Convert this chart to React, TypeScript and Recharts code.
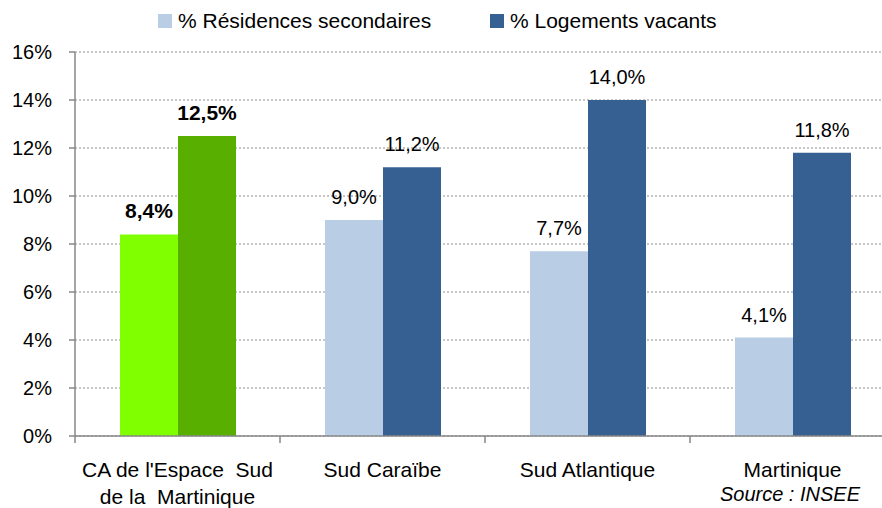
import { BarChart, Bar, XAxis, YAxis, CartesianGrid, LabelList, Cell } from "recharts";

const CATEGORIES = ["CA de l'Espace  Sud\nde la  Martinique", "Sud Caraïbe", "Sud Atlantique", "Martinique"];
const SERIES_NAMES = ["% Résidences secondaires", "% Logements vacants"];
const RESIDENCES = [8.4, 9.0, 7.7, 4.1];
const VACANTS = [12.5, 11.2, 14.0, 11.8];
const Y_TICKS = [0, 2, 4, 6, 8, 10, 12, 14, 16];

const FONT = "'Liberation Sans', Arial, sans-serif";
const LIGHT_BLUE = "#b9cde5";
const DARK_BLUE = "#376092";
const LIGHT_GREEN = "#80ff00";
const DARK_GREEN = "#59af00";
const AXIS_GRAY = "#878787";
const SERIES_COLORS = [LIGHT_BLUE, DARK_BLUE];

const data = CATEGORIES.map((name, i) => ({ name, res: RESIDENCES[i], vac: VACANTS[i] }));

const fmt = (v: number) => v.toFixed(1).replace(".", ",") + "%";

function ValueLabel(props: any) {
  const { x, y, width, value, index } = props;
  const bold = index === 0;
  return (
    <text x={x + width / 2} y={y - 16} textAnchor="middle" fontFamily={FONT} fontSize={bold ? 21 : 20}
      fontWeight={bold ? 700 : 400} fill="#000">
      {fmt(value)}
    </text>
  );
}

function CategoryTick(props: any) {
  const { x, y, payload, width } = props;
  const bw = width / CATEGORIES.length;
  const lines = String(payload.value).split("\n");
  return (
    <g>
      <line x1={x - bw / 2} x2={x - bw / 2} y1={y} y2={y + 7} stroke={AXIS_GRAY} strokeWidth={1.5} />
      {lines.map((l, i) => (
        <text key={i} x={x} y={y + 41 + i * 27} textAnchor="middle" fontFamily={FONT} fontSize={21} fill="#000"
          style={{ whiteSpace: "pre" }}>
          {l}
        </text>
      ))}
    </g>
  );
}

export default function App() {
  return (
    <div style={{ position: "absolute", left: 0, top: 0, width: 882, height: 508, overflow: "hidden", background: "#fff" }}>
      <BarChart width={895} height={508} data={data} margin={{ top: 52, right: 0, bottom: 0, left: 0 }}
        barGap={0} barSize={58}>
        <CartesianGrid vertical={false} strokeDasharray="2 2" stroke="#8c8c8c" />
        <XAxis dataKey="name" height={72} tickLine={false} tickSize={0} tickMargin={0} interval={0}
          axisLine={{ stroke: AXIS_GRAY, strokeWidth: 1.5 }} tick={<CategoryTick />} />
        <YAxis width={75} domain={[0, 16]} ticks={Y_TICKS} interval={0} tickFormatter={(v) => `${v}%`}
          axisLine={{ stroke: AXIS_GRAY, strokeWidth: 1.5 }} tickLine={{ stroke: AXIS_GRAY, strokeWidth: 1.5 }}
          tickSize={6} tickMargin={17} tick={{ fontFamily: FONT, fontSize: 20, fill: "#000" }} />
        <Bar dataKey="res" name={SERIES_NAMES[0]} fill={LIGHT_BLUE} isAnimationActive={false}>
          {data.map((_, i) => <Cell key={i} fill={i === 0 ? LIGHT_GREEN : LIGHT_BLUE} />)}
          <LabelList dataKey="res" content={<ValueLabel />} />
        </Bar>
        <Bar dataKey="vac" name={SERIES_NAMES[1]} fill={DARK_BLUE} isAnimationActive={false}>
          {data.map((_, i) => <Cell key={i} fill={i === 0 ? DARK_GREEN : DARK_BLUE} />)}
          <LabelList dataKey="vac" content={<ValueLabel />} />
        </Bar>
      </BarChart>
      <div style={{ position: "absolute", left: 158, top: 9, display: "flex", fontFamily: FONT, fontSize: 21, color: "#000" }}>
        {SERIES_NAMES.map((n, i) => (
          <div key={n} style={{ display: "flex", alignItems: "center", width: 332 }}>
            <span style={{ width: 14, height: 14, background: SERIES_COLORS[i], marginRight: 6, display: "inline-block" }} />
            <span>{n}</span>
          </div>
        ))}
      </div>
      <div style={{ position: "absolute", right: 22, top: 483, fontFamily: FONT, fontSize: 20, fontStyle: "italic", color: "#000" }}>
        Source : INSEE
      </div>
    </div>
  );
}
